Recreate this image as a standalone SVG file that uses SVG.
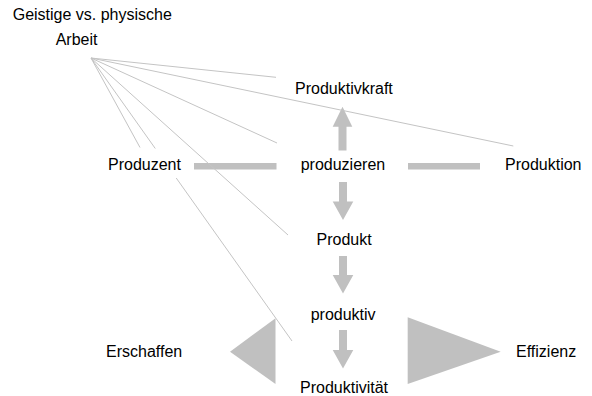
<svg xmlns="http://www.w3.org/2000/svg" width="592" height="396" viewBox="0 0 592 396">
<style>
text{font-family:"Liberation Sans",Arial,sans-serif;font-size:16px;fill:#000}
.sh{fill:#c0c0c0;stroke:none}
.ln{stroke:#c4c4c4;stroke-width:1;fill:none}
.bg{fill:#fff}
</style>
<rect width="592" height="396" fill="#fff"/>
<g id="connectors">
<polygon class="sh" points="338.5,150.5 338.5,126.7 332.7,126.7 342.5,106.7 352.3,126.7 346.5,126.7 346.5,150.5"/>
<polygon class="sh" points="339,182 347,182 347,201.5 353.3,201.5 343,220 332.7,201.5 339,201.5"/>
<polygon class="sh" points="339,256 347,256 347,275 353.3,275 343,293.5 332.7,275 339,275"/>
<polygon class="sh" points="339,330 347,330 347,350 353.3,350 343,368.5 332.7,350 339,350"/>
<rect class="sh" x="194" y="163" width="82.5" height="6.5"/>
<rect class="sh" x="408" y="163" width="72" height="6.5"/>
<polygon class="sh" points="275.5,318.3 275.5,384 230,351.7"/>
<polygon class="sh" points="407.7,317.3 407.7,384 500.7,351.7"/>
<line class="ln" x1="91" y1="58" x2="276" y2="77.3"/>
<line class="ln" x1="91" y1="58" x2="513.3" y2="146"/>
<line class="ln" x1="91" y1="58" x2="277" y2="143"/>
<line class="ln" x1="91" y1="58" x2="140" y2="147.5"/>
<line class="ln" x1="91" y1="58" x2="288" y2="235"/>
<line class="ln" x1="91" y1="58" x2="292" y2="341"/>
</g>
<g id="arbeit"><text x="12.7" y="20">Geistige vs. physische</text><text x="55.7" y="45">Arbeit</text></g>
<g id="produktivkraft"><text x="295" y="94">Produktivkraft</text></g>
<g id="produzent"><rect class="bg" x="104" y="148.5" width="80" height="29.5"/><text x="108" y="170">Produzent</text></g>
<g id="produzieren"><text x="300.7" y="170">produzieren</text></g>
<g id="produktion"><text x="505" y="170">Produktion</text></g>
<g id="produkt"><text x="316.5" y="245">Produkt</text></g>
<g id="produktiv"><text x="310.7" y="320">produktiv</text></g>
<g id="erschaffen"><text x="106" y="357">Erschaffen</text></g>
<g id="effizienz"><text x="516" y="357">Effizienz</text></g>
<g id="produktivitaet"><text x="300" y="392.5">Produktivität</text></g>
</svg>
